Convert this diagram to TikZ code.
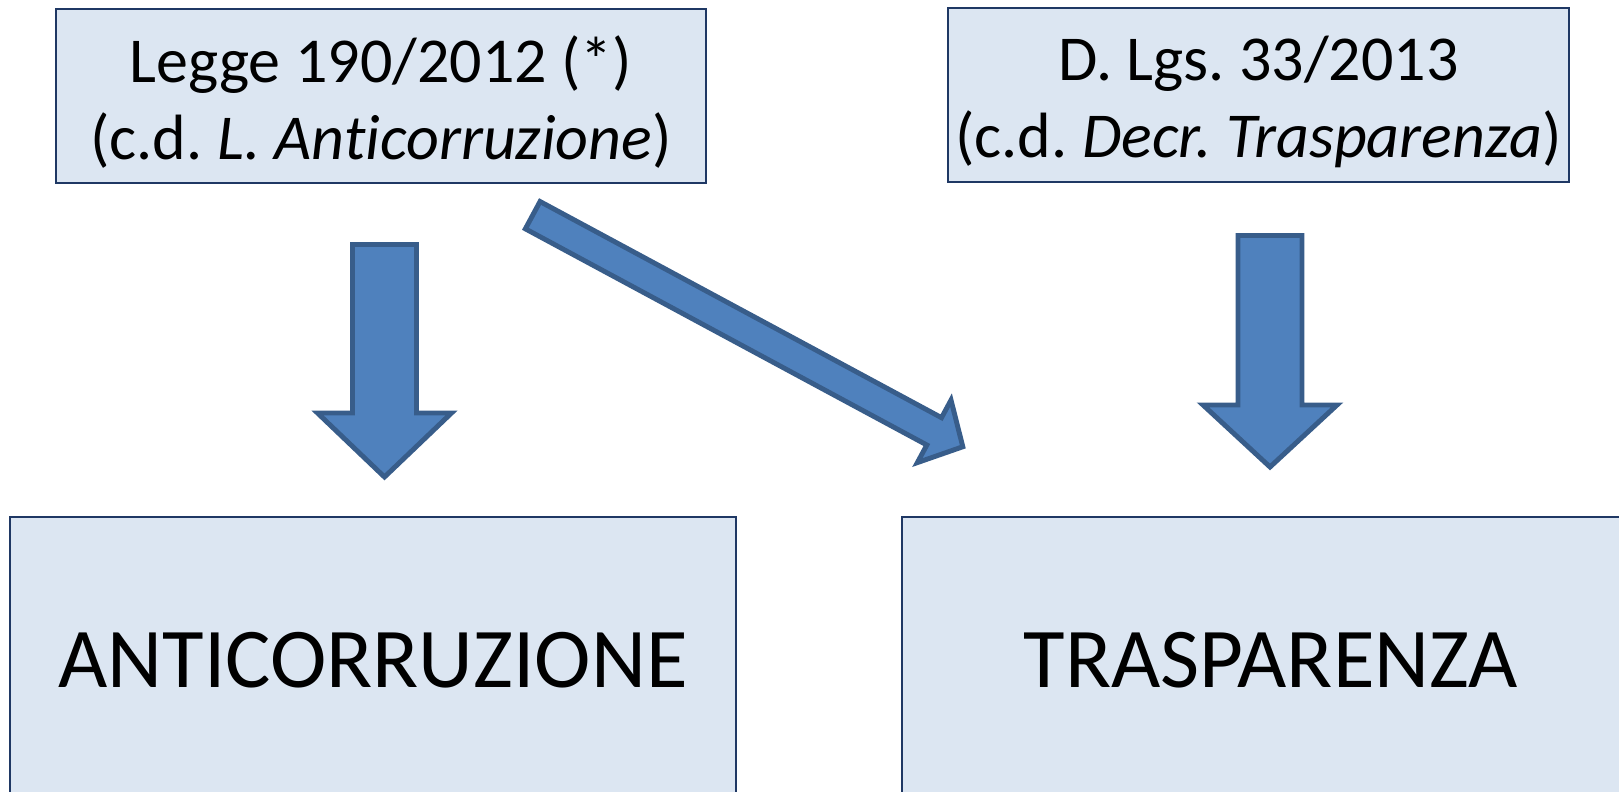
\documentclass[tikz,border=0pt]{standalone}
\usepackage{fontspec}
\setmainfont{Carlito}[Ligatures={NoCommon}]
\frenchspacing
\definecolor{boxfill}{HTML}{DCE6F2}
\definecolor{boxline}{HTML}{1F3864}
\definecolor{arrfill}{HTML}{4F81BD}
\definecolor{arrline}{HTML}{385D8A}
\begin{document}
\begin{tikzpicture}[x=0.01cm,y=-0.01cm,
  lawbox/.style={draw=boxline,fill=boxfill,line width=0.6pt,inner sep=0pt},
  lawtext/.style={anchor=base,inner sep=0pt,font=\fontsize{18.2}{21.9}\selectfont},
  bigtext/.style={font=\fontsize{24.2}{29}\selectfont},
  blockarrow/.style={draw=arrline,fill=arrfill,line width=1.4pt,line join=miter}]
\useasboundingbox (0,0) rectangle (1619,792);
\clip (0,0) rectangle (1619,792);
% top boxes
\node[lawbox,minimum width=6.50cm,minimum height=1.74cm] (legge) at (381,96) {};
\node[lawtext] (leggeA) at (381,83) {Legge 190/2012 (*)};
\node[lawtext] (leggeB) at (381,160) {(c.d. \textit{L. Anticorruzione})};
\node[lawbox,minimum width=6.21cm,minimum height=1.74cm] (dlgs) at (1258.5,95) {};
\node[lawtext] (dlgsA) at (1258.5,81) {D. Lgs. 33/2013};
\node[lawtext] (dlgsB) at (1258.5,158) {(c.d. \textit{Decr. Trasparenza})};
% bottom boxes
\node[lawbox,bigtext,minimum width=7.26cm,minimum height=2.86cm] (anti) at (373,660) {ANTICORRUZIONE};
\node[lawbox,bigtext,minimum width=7.38cm,minimum height=2.86cm] (trasp) at (1271,660) {TRASPARENZA};
% left down arrow
\draw[blockarrow] (352.5,244.5) -- (416.5,244.5) -- (416.5,413) -- (451.5,413) -- (384.5,477)
  -- (317.5,413) -- (352.5,413) -- cycle;
% right down arrow
\draw[blockarrow] (1238,235.5) -- (1302,235.5) -- (1302,405) -- (1337,405) -- (1270,467)
  -- (1203,405) -- (1238,405) -- cycle;
% diagonal arrow
\begin{scope}[shift={(530.5,214)},rotate=-28.3]
\draw[blockarrow] (2.5,15.5) -- (458.5,15.5) -- (458.5,35.5) -- (491,0) -- (458.5,-35.5)
  -- (458.5,-15.5) -- (2.5,-15.5) -- cycle;
\end{scope}
\end{tikzpicture}
\end{document}
